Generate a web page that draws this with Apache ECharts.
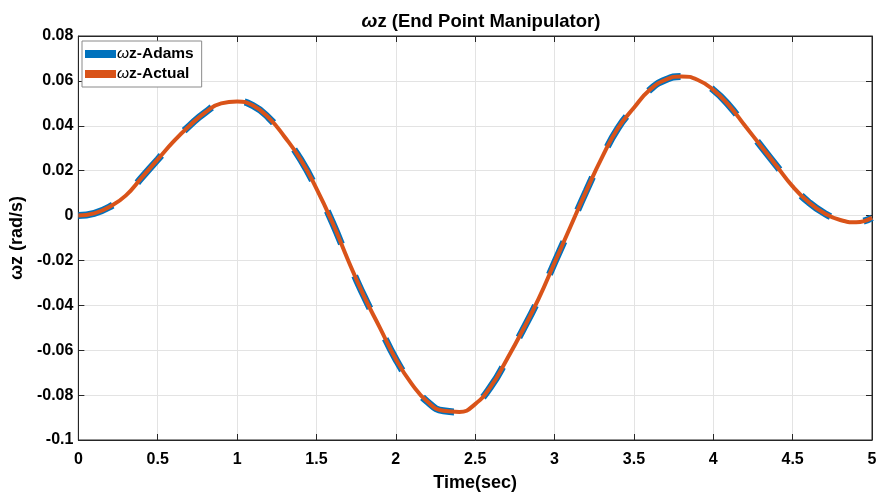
<!DOCTYPE html>
<html>
<head>
<meta charset="utf-8">
<script src="https://cdn.jsdelivr.net/npm/echarts@6/dist/echarts.min.js"></script>
<style>
html,body{margin:0;padding:0;background:#fff;}
#chart{width:881px;height:497px;}
</style>
</head>
<body>
<div id="chart"></div>
<script>
// Data
const timeSec = [0,0.1,0.2,0.3,0.4,0.5,0.6,0.7,0.8,0.9,1.0,1.1,1.2,1.3,1.4,1.5,1.6,1.7,1.8,1.9,2.0,2.1,2.2,2.3,2.4,2.5,2.6,2.7,2.8,2.9,3.0,3.1,3.2,3.3,3.4,3.5,3.6,3.7,3.8,3.9,4.0,4.1,4.2,4.3,4.4,4.5,4.6,4.7,4.8,4.9,5.0];
const omegaAdams = [0,0.001,0.004,0.009,0.017,0.025,0.033,0.040,0.046,0.050,0.0508,0.049,0.0435,0.035,0.025,0.012,-0.003,-0.020,-0.036,-0.050,-0.064,-0.075,-0.083,-0.087,-0.0875,-0.084,-0.076,-0.064,-0.051,-0.037,-0.021,-0.005,0.011,0.026,0.039,0.048,0.056,0.0605,0.062,0.0605,0.056,0.049,0.040,0.031,0.022,0.013,0.006,0.001,-0.002,-0.003,-0.001];
const omegaActual = [0,0.001,0.004,0.009,0.017,0.025,0.033,0.040,0.046,0.050,0.0508,0.049,0.0435,0.035,0.025,0.012,-0.003,-0.020,-0.036,-0.050,-0.064,-0.075,-0.083,-0.087,-0.0875,-0.084,-0.076,-0.064,-0.051,-0.037,-0.021,-0.005,0.011,0.026,0.039,0.048,0.056,0.0605,0.062,0.0605,0.056,0.049,0.040,0.031,0.022,0.013,0.006,0.001,-0.002,-0.003,-0.001];
const seriesNames = ['ωz-Adams', 'ωz-Actual'];
const titleText = 'ωz (End Point Manipulator)';
const xAxisName = 'Time(sec)';
const yAxisName = 'ωz (rad/s)';

const FONT = '"Liberation Sans", Arial, sans-serif';
const pair = (xs, ys) => xs.map((x, i) => [x, ys[i]]);

const chart = echarts.init(document.getElementById('chart'), null, {renderer: 'canvas'});
const axisLabelStyle = {color: '#000', fontWeight: 'bold', fontSize: 16, fontFamily: FONT};
const tickStyle = {show: true, inside: true, length: 6, lineStyle: {color: '#262626'}};

chart.setOption({
  backgroundColor: '#fff',
  animation: false,
  title: {
    text: '{w|' + titleText.slice(0, 1) + '}{b|' + titleText.slice(1) + '}',
    left: 476, top: 7, textAlign: 'center',
    textStyle: {
      rich: {
        w: {fontStyle: 'italic', fontSize: 19, fontFamily: FONT, color: '#000'},
        b: {fontWeight: 'bold', fontSize: 18.5, fontFamily: FONT, color: '#000'}
      }
    }
  },
  legend: {
    left: 82, top: 41, orient: 'vertical',
    backgroundColor: '#fff', borderColor: '#8a8a8a', borderWidth: 1,
    padding: [5, 8, 5, 3], itemGap: 4,
    itemWidth: 31, itemHeight: 8, icon: 'rect',
    data: seriesNames.map((n, i) => ({name: n, itemStyle: {color: i === 0 ? '#0072BD' : '#D95319'}})),
    formatter: n => '{w|ω}{b|' + n.slice(1) + '}',
    textStyle: {
      padding: [0, 0, 0, -4],
      rich: {
        w: {fontStyle: 'italic', fontSize: 15.5, fontFamily: FONT, color: '#000', lineHeight: 19},
        b: {fontWeight: 'bold', fontSize: 15.5, fontFamily: FONT, color: '#000', lineHeight: 19}
      }
    }
  },
  grid: {left: 77, right: 9, top: 36, bottom: 56, show: true, borderColor: '#262626', borderWidth: 1, backgroundColor: '#fff'},
  xAxis: [{
    type: 'value', min: 0, max: 5, interval: 0.5, position: 'bottom',
    name: xAxisName, nameLocation: 'middle', nameGap: 34,
    nameTextStyle: {color: '#000', fontWeight: 'bold', fontSize: 18, fontFamily: FONT},
    axisLine: {show: true, onZero: false, lineStyle: {color: '#262626'}},
    axisTick: tickStyle,
    axisLabel: Object.assign({margin: 12}, axisLabelStyle),
    splitLine: {show: true, lineStyle: {color: '#e3e3e3', width: 1}}
  }, {
    type: 'value', min: 0, max: 5, interval: 0.5, position: 'top',
    axisLine: {show: true, onZero: false, lineStyle: {color: '#262626'}},
    axisTick: tickStyle, axisLabel: {show: false}, splitLine: {show: false}
  }],
  yAxis: [{
    type: 'value', min: -0.1, max: 0.08, interval: 0.02, position: 'left',
    name: yAxisName, nameLocation: 'middle', nameGap: 47, nameRotate: 90,
    nameTextStyle: {color: '#000', fontWeight: 'bold', fontSize: 18, fontFamily: FONT},
    axisLine: {show: true, onZero: false, lineStyle: {color: '#262626'}},
    axisTick: tickStyle,
    axisLabel: Object.assign({margin: 5, formatter: v => String(Math.round(v * 100) / 100)}, axisLabelStyle),
    splitLine: {show: true, lineStyle: {color: '#e3e3e3', width: 1}}
  }, {
    type: 'value', min: -0.1, max: 0.08, interval: 0.02, position: 'right',
    axisLine: {show: true, onZero: false, lineStyle: {color: '#262626'}},
    axisTick: tickStyle, axisLabel: {show: false}, splitLine: {show: false}
  }],
  series: [{
    name: seriesNames[0], type: 'line', smooth: true, showSymbol: false,
    data: pair(timeSec, omegaAdams),
    lineStyle: {color: '#0072BD', width: 7, type: [36, 34], cap: 'butt'},
    itemStyle: {color: '#0072BD'}, z: 2
  }, {
    name: seriesNames[1], type: 'line', smooth: true, showSymbol: false,
    data: pair(timeSec, omegaActual),
    lineStyle: {color: '#D95319', width: 4},
    itemStyle: {color: '#D95319'}, z: 3
  }]
});
</script>
</body>
</html>
